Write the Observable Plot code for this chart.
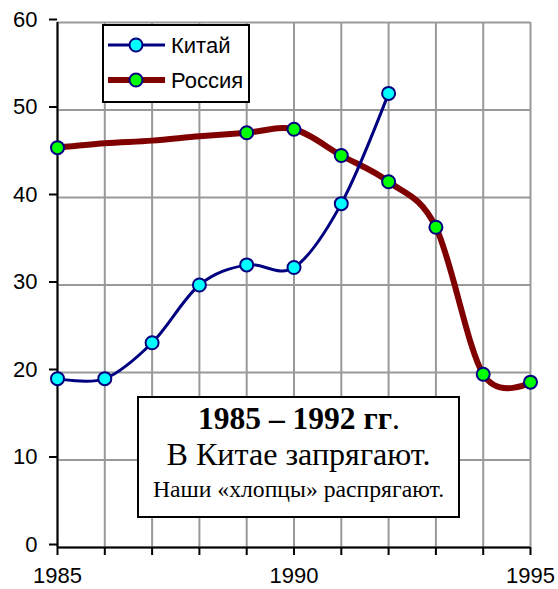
<!DOCTYPE html>
<html>
<head>
<meta charset="utf-8">
<script src="https://cdn.jsdelivr.net/npm/d3@7"></script>
<script src="https://cdn.jsdelivr.net/npm/@observablehq/plot@0.6"></script>
<style>
  html, body { margin: 0; padding: 0; background: #fff; }
</style>
</head>
<body>
<div id="chart"></div>
<script>
const years = [1985, 1986, 1987, 1988, 1989, 1990, 1991, 1992, 1993, 1994, 1995];
const china = [19.3, 19.3, 23.4, 30.0, 32.3, 32.0, 39.3, 51.9, null, null, null];
const russia = [45.7, 46.2, 46.5, 47.0, 47.4, 47.8, 44.8, 41.8, 36.6, 19.8, 18.9];
const russiaMarked = [true, false, false, false, true, true, true, true, true, true, true];
const seriesNames = ["Китай", "Россия"];
const xTickLabels = [1985, 1990, 1995];
const yTicks = [0, 10, 20, 30, 40, 50, 60];
const noteLines = ["1985 – 1992 гг", "В Китае запрягают.", "Наши «хлопцы» распрягают."];

const chinaData = years.map((y, i) => ({year: y, v: china[i]})).filter(d => d.v != null);
const russiaData = years.map((y, i) => ({year: y, v: russia[i], m: russiaMarked[i]}));

const curve = d3.curveCardinal.tension(0);
const navy = "#000080", maroon = "#800000";

const chart = Plot.plot({
  width: 558,
  height: 589,
  marginLeft: 57,
  marginRight: 28,
  marginTop: 22,
  marginBottom: 42,
  style: {fontFamily: "'Liberation Sans', Arial, sans-serif", fontSize: "22px", color: "#000", background: "#fff", overflow: "visible"},
  x: {domain: [1985, 1995], label: null},
  y: {domain: [0, 60], label: null},
  marks: [
    Plot.gridX(years, {stroke: "#999", strokeOpacity: 1, strokeWidth: 2}),
    Plot.gridY(yTicks, {stroke: "#999", strokeOpacity: 1, strokeWidth: 2}),
    Plot.axisX({ticks: years, tickFormat: d => xTickLabels.includes(d) ? String(d) : "", tickSize: 8, tickPadding: 12, strokeWidth: 2, stroke: "#000", label: null}),
    Plot.axisY({ticks: yTicks, tickSize: 8, tickPadding: 12, strokeWidth: 2, stroke: "#000", dy: -3, label: null}),
    Plot.ruleX([1985], {stroke: "#000", strokeWidth: 2}),
    Plot.ruleY([0], {stroke: "#000", strokeWidth: 2}),
    Plot.line(russiaData, {x: "year", y: "v", stroke: maroon, strokeWidth: 6, curve}),
    Plot.line(chinaData, {x: "year", y: "v", stroke: navy, strokeWidth: 3, curve}),
    Plot.dot(russiaData.filter(d => d.m), {x: "year", y: "v", r: 6.5, fill: "#00ff00", stroke: navy, strokeWidth: 2}),
    Plot.dot(chinaData, {x: "year", y: "v", r: 6.5, fill: "#00ffff", stroke: navy, strokeWidth: 2})
  ]
});

document.getElementById("chart").appendChild(chart);

const svg = d3.select(chart);

// Legend
const lg = svg.append("g").attr("text-anchor", "start");
lg.append("rect").attr("x", 103).attr("y", 25).attr("width", 146).attr("height", 77)
  .attr("fill", "#fff").attr("stroke", "#000").attr("stroke-width", 2);
const legendItems = [
  {name: seriesNames[0], stroke: navy, sw: 3, fill: "#00ffff", y: 45},
  {name: seriesNames[1], stroke: maroon, sw: 6, fill: "#00ff00", y: 80}
];
legendItems.forEach(it => {
  lg.append("line").attr("x1", 108).attr("x2", 165).attr("y1", it.y).attr("y2", it.y)
    .attr("stroke", it.stroke).attr("stroke-width", it.sw);
  lg.append("circle").attr("cx", 136).attr("cy", it.y).attr("r", 6.5)
    .attr("fill", it.fill).attr("stroke", navy).attr("stroke-width", 2);
  lg.append("text").attr("x", 171).attr("y", it.y + 8)
    .attr("font-family", "'Liberation Sans', Arial, sans-serif").attr("font-size", 22)
    .text(it.name);
});

// Annotation box
const ng = svg.append("g").attr("font-family", "'Liberation Serif', 'Times New Roman', serif").attr("text-anchor", "middle");
ng.append("rect").attr("x", 138).attr("y", 397).attr("width", 321).attr("height", 120)
  .attr("fill", "#fff").attr("stroke", "#000").attr("stroke-width", 2);
const t1 = ng.append("text").attr("x", 299).attr("y", 429).attr("font-size", 30);
t1.append("tspan").attr("font-weight", "bold").text(noteLines[0]);
t1.append("tspan").text(".");
const t2 = ng.append("text").attr("x", 298.5).attr("y", 465).attr("font-size", 30).text(noteLines[1]);
const t3 = ng.append("text").attr("x", 298.5).attr("y", 497).attr("font-size", 23).text(noteLines[2]);

// fit each line to the width it has in the reference
function fit(sel, size, target, minS, maxS) {
  const n = sel.node();
  const L = n.getComputedTextLength ? n.getComputedTextLength() : 0;
  if (L > 0) {
    const s = Math.max(minS, Math.min(maxS, size * target / L));
    sel.attr("font-size", s.toFixed(1));
  }
}
fit(t1, 30, 202, 26, 34);
fit(t2, 30, 264, 26, 34);
fit(t3, 23, 292, 19, 27);
</script>
</body>
</html>
